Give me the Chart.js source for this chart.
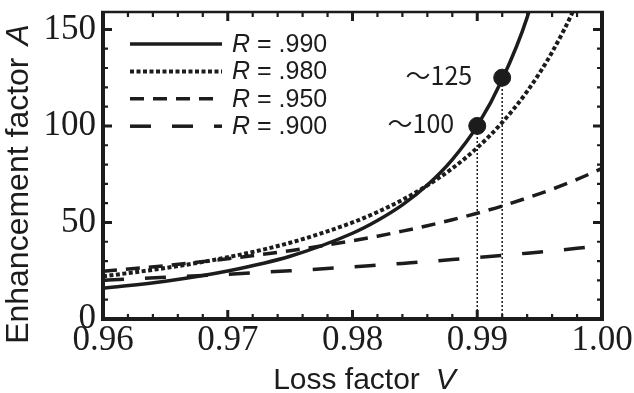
<!DOCTYPE html>
<html>
<head>
<meta charset="utf-8">
<script src="https://cdn.jsdelivr.net/npm/chart.js@4.4.1/dist/chart.umd.min.js"></script>
<style>
html, body { margin: 0; padding: 0; background: #fff; }
</style>
</head>
<body>
<canvas id="enhChart" width="634" height="393"></canvas>
<script>
// loss factor V (x) and enhancement factor A (y) for each mirror reflectivity R
const lossV = [0.96, 0.965, 0.97, 0.975, 0.98, 0.982, 0.984, 0.986, 0.988, 0.99, 0.992, 0.994, 0.996, 0.998, 1.0];
const enhR990 = [15.9, 19.6, 24.9, 32.5, 44.4, 51.0, 59.1, 69.4, 82.6, 100, 124, 156.2, 204, null, null];
const enhR980 = [22.1, 26.4, 32.0, 39.5, 50.0, 55.4, 61.7, 69.2, 78.0, 88.7, 101.8, 117.9, 138.2, 164.1, 198];
const enhR950 = [24.7, 27.6, 31.2, 35.4, 40.5, 42.9, 45.5, 48.3, 51.4, 54.8, 58.5, 62.7, 67.2, 72.3, 78.0];
const enhR900 = [20.1, 21.6, 23.2, 25.0, 27.0, 27.9, 28.8, 29.7, 30.8, 31.8, 32.9, 34.1, 35.3, 36.6, 38.0];
const reflectLabels = [".990", ".980", ".950", ".900"];

const xTickValues = [0.96, 0.97, 0.98, 0.99, 1.00];
const yTickValues = [0, 50, 100, 150];

// marked operating points
const markV = [0.99, 0.992];
const markA = [100, 125];
const markLabels = ["〜100", "〜125"];

const INK = "#1c1c1c";
const lineStyles = [
    { dash: [], width: 3.5 },
    { dash: [4, 2.5], width: 4 },
    { dash: [14, 9], width: 3.5 },
    { dash: [21, 21], width: 3.5 },
];

function toPoints(ys) {
    return lossV.map((v, i) => ({ x: v, y: ys[i] }));
}

const curveSets = [enhR990, enhR980, enhR950, enhR900].map((ys, i) => ({
    type: "line",
    data: toPoints(ys),
    borderColor: INK,
    borderWidth: lineStyles[i].width,
    borderDash: lineStyles[i].dash,
    pointRadius: 0,
    cubicInterpolationMode: "monotone",
    fill: false,
    order: 1,
}));

const guideSets = markV.map((v, i) => ({
    type: "line",
    data: [{ x: v, y: 0 }, { x: v, y: markA[i] }],
    borderColor: INK,
    borderWidth: 1.5,
    borderDash: [2, 2],
    pointRadius: 0,
    order: 2,
}));

const dotSet = {
    type: "scatter",
    data: markV.map((v, i) => ({ x: v, y: markA[i] })),
    backgroundColor: INK,
    borderColor: INK,
    pointRadius: 8.5,
    order: 0,
};

// frame with inward ticks, legend, annotations, axis titles
const decorPlugin = {
    id: "decor",
    afterDatasetsDraw(chart) {
        const ctx = chart.ctx;
        const a = chart.chartArea;
        const xs = chart.scales.x;
        const ys = chart.scales.y;
        ctx.save();
        ctx.strokeStyle = INK;
        ctx.setLineDash([]);

        // minor + major ticks on all four sides
        for (let k = 0; k <= 20; k++) {
            const v = 0.96 + k * 0.002;
            const px = xs.getPixelForValue(v);
            const major = k % 5 === 0;
            const len = major ? 9 : 5;
            ctx.lineWidth = major ? 3 : 2.2;
            ctx.beginPath();
            ctx.moveTo(px, a.bottom);
            ctx.lineTo(px, a.bottom - len);
            ctx.moveTo(px, a.top);
            ctx.lineTo(px, a.top + len);
            ctx.stroke();
        }
        for (let k = 0; k <= 15; k++) {
            const py = ys.getPixelForValue(k * 10);
            const major = k % 5 === 0;
            const len = major ? 9 : 5;
            ctx.lineWidth = major ? 3 : 2.2;
            ctx.beginPath();
            ctx.moveTo(a.left, py);
            ctx.lineTo(a.left + len, py);
            ctx.moveTo(a.right, py);
            ctx.lineTo(a.right - len, py);
            ctx.stroke();
        }

        // frame
        ctx.lineWidth = 4;
        ctx.beginPath();
        ctx.moveTo(a.left, a.top);
        ctx.lineTo(a.left, a.bottom);
        ctx.lineTo(a.right, a.bottom);
        ctx.lineTo(a.right, a.top);
        ctx.stroke();
        ctx.lineWidth = 2.5;
        ctx.beginPath();
        ctx.moveTo(a.left - 2, a.top);
        ctx.lineTo(a.right + 2, a.top);
        ctx.stroke();

        // legend
        ctx.fillStyle = INK;
        ctx.textBaseline = "middle";
        ctx.textAlign = "left";
        lineStyles.forEach((st, i) => {
            const y = a.top + 32 + i * 27.4;
            ctx.lineWidth = st.width;
            ctx.setLineDash(st.dash);
            ctx.beginPath();
            ctx.moveTo(a.left + 27, y);
            ctx.lineTo(a.left + 119, y);
            ctx.stroke();
            ctx.setLineDash([]);
            ctx.font = "italic 25px 'Liberation Sans'";
            ctx.fillText("R", a.left + 129, y + 1);
            const w = ctx.measureText("R").width;
            ctx.font = "25px 'Liberation Sans'";
            ctx.fillText(" = " + reflectLabels[i], a.left + 129 + w, y + 1);
        });

        // annotation labels next to the dots
        ctx.font = "25px 'Noto Sans CJK JP'";
        ctx.textAlign = "right";
        markV.forEach((v, i) => {
            const px = xs.getPixelForValue(v);
            const py = ys.getPixelForValue(markA[i]);
            ctx.fillText(markLabels[i], px - (i === 0 ? 23 : 30), py - 2);
        });

        // x title
        ctx.textAlign = "left";
        ctx.textBaseline = "alphabetic";
        ctx.font = "30px 'Liberation Sans'";
        const xt1 = "Loss factor";
        const w1 = ctx.measureText(xt1).width;
        ctx.font = "italic 30px 'Liberation Sans'";
        const w2 = ctx.measureText("V").width;
        const gap = 16;
        const cx = (a.left + a.right) / 2 + 12;
        let sx = cx - (w1 + gap + w2) / 2;
        ctx.font = "30px 'Liberation Sans'";
        ctx.fillText(xt1, sx, 389);
        ctx.font = "italic 30px 'Liberation Sans'";
        ctx.fillText("V", sx + w1 + gap, 389);

        // y title (rotated)
        ctx.translate(19, 184);
        ctx.rotate(-Math.PI / 2);
        ctx.textBaseline = "middle";
        ctx.font = "32px 'Liberation Sans'";
        const yt1 = "Enhancement factor";
        const yw1 = ctx.measureText(yt1).width;
        ctx.font = "italic 32px 'Liberation Sans'";
        const yw2 = ctx.measureText("A").width;
        const ygap = 12;
        sx = -(yw1 + ygap + yw2) / 2;
        ctx.font = "32px 'Liberation Sans'";
        ctx.fillText(yt1, sx, 0);
        ctx.font = "italic 32px 'Liberation Sans'";
        ctx.fillText("A", sx + yw1 + ygap, 0);
        ctx.restore();
    },
};

const ctx = document.getElementById("enhChart").getContext("2d");
new Chart(ctx, {
    data: {
        datasets: [...curveSets, ...guideSets, dotSet],
    },
    options: {
        responsive: false,
        animation: false,
        layout: { padding: { top: 12, right: 32, left: 0, bottom: 0 } },
        plugins: {
            legend: { display: false },
            tooltip: { enabled: false },
        },
        scales: {
            x: {
                type: "linear",
                min: 0.96,
                max: 1.0,
                grid: { display: false, drawTicks: false },
                border: { display: false },
                afterBuildTicks: (scale) => {
                    scale.ticks = xTickValues.map((v) => ({ value: v }));
                },
                afterFit: (scale) => {
                    scale.height = 74;
                    scale.paddingLeft = 0;
                    scale.paddingRight = 0;
                },
                ticks: {
                    padding: 1,
                    color: INK,
                    font: { family: "'Liberation Serif'", size: 35 },
                    callback: (v) => Number(v).toFixed(2),
                },
            },
            y: {
                type: "linear",
                min: 0,
                max: 159,
                grid: { display: false, drawTicks: false },
                border: { display: false },
                afterBuildTicks: (scale) => {
                    scale.ticks = yTickValues.map((v) => ({ value: v }));
                },
                afterFit: (scale) => {
                    scale.width = 103;
                    scale.paddingTop = 0;
                    scale.paddingBottom = 0;
                },
                ticks: {
                    padding: 7,
                    color: INK,
                    font: { family: "'Liberation Serif'", size: 35 },
                },
            },
        },
    },
    plugins: [decorPlugin],
});
</script>
</body>
</html>
